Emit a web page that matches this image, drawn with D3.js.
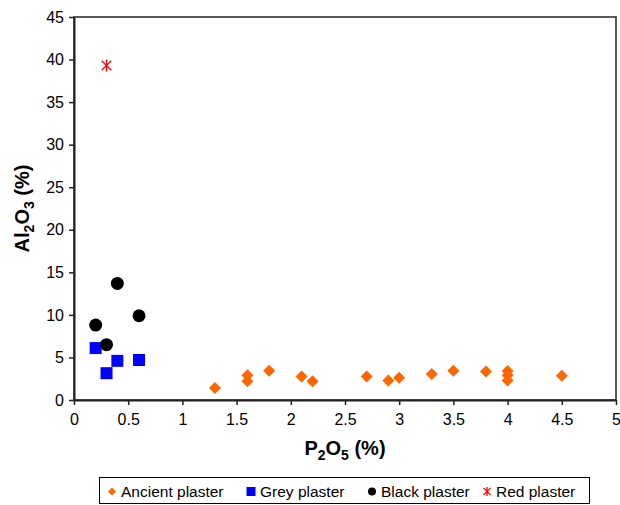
<!DOCTYPE html>
<html>
<head>
<meta charset="utf-8">
<script src="https://cdn.jsdelivr.net/npm/d3@7"></script>
<style>
  body { margin: 0; background: #fff; }
  svg text { font-family: "Liberation Sans", Arial, sans-serif; }
</style>
</head>
<body>
<svg id="chart" width="620" height="505"></svg>
<script>
// data
var ancientP = [1.3, 1.6, 1.6, 1.8, 2.1, 2.2, 2.7, 2.9, 3.0, 3.3, 3.5, 3.8, 4.0, 4.0, 4.0, 4.5];
var ancientAl = [1.4, 2.9, 2.2, 3.45, 2.75, 2.2, 2.75, 2.3, 2.6, 3.05, 3.45, 3.35, 3.4, 2.9, 2.3, 2.85];
var greyP = [0.2, 0.3, 0.4, 0.6];
var greyAl = [6.1, 3.15, 4.6, 4.7];
var blackP = [0.2, 0.3, 0.4, 0.6];
var blackAl = [8.8, 6.5, 13.7, 9.9];
var redP = [0.3];
var redAl = [39.3];
var xTicks = [0, 0.5, 1, 1.5, 2, 2.5, 3, 3.5, 4, 4.5, 5];
var yTicks = [0, 5, 10, 15, 20, 25, 30, 35, 40, 45];
var legendLabels = ["Ancient plaster", "Grey plaster", "Black plaster", "Red plaster"];

var plot = {left: 74, right: 616, top: 17, bottom: 400};
var svg = d3.select("#chart");

var x = d3.scaleLinear().domain([0, 5]).range([plot.left, plot.right]);
var y = d3.scaleLinear().domain([0, 45]).range([plot.bottom, plot.top]);

// frame
svg.append("rect")
    .attr("x", plot.left).attr("y", plot.top)
    .attr("width", plot.right - plot.left).attr("height", plot.bottom - plot.top)
    .attr("fill", "none").attr("stroke", "#333").attr("stroke-width", 1.6);

var xAxis = svg.append("g")
    .attr("transform", "translate(0," + plot.bottom + ")")
    .call(d3.axisBottom(x).tickValues(xTicks).tickSize(5).tickSizeOuter(0).tickFormat(d3.format("")));
var yAxis = svg.append("g")
    .attr("transform", "translate(" + plot.left + ",0)")
    .call(d3.axisLeft(y).tickValues(yTicks).tickSize(5).tickSizeOuter(0));

[xAxis, yAxis].forEach(function (a) {
    a.select(".domain").attr("stroke", "#222").attr("stroke-width", 2);
    a.selectAll(".tick line").attr("stroke", "#222").attr("stroke-width", 1.5);
    a.selectAll(".tick text")
        .attr("fill", "#000")
        .style("font-size", "16px")
        .style("font-family", "'Liberation Sans', Arial, sans-serif");
});
xAxis.selectAll(".tick text").attr("dy", "1.05em");
yAxis.selectAll(".tick text").attr("x", -10);

// axis titles
var xt = svg.append("text")
    .attr("x", x(2.5)).attr("y", 455)
    .attr("text-anchor", "middle")
    .style("font-size", "20px").style("font-weight", "bold");
xt.append("tspan").text("P");
xt.append("tspan").text("2").attr("dy", 5).style("font-size", "14px");
xt.append("tspan").text("O").attr("dy", -5);
xt.append("tspan").text("5").attr("dy", 5).style("font-size", "14px");
xt.append("tspan").text(" (%)").attr("dy", -5);

var yt = svg.append("text")
    .attr("transform", "translate(29," + ((plot.top + plot.bottom) / 2) + ") rotate(-90)")
    .attr("text-anchor", "middle")
    .style("font-size", "20px").style("font-weight", "bold");
yt.append("tspan").text("Al");
yt.append("tspan").text("2").attr("dy", 5).style("font-size", "14px");
yt.append("tspan").text("O").attr("dy", -5);
yt.append("tspan").text("3").attr("dy", 5).style("font-size", "14px");
yt.append("tspan").text(" (%)").attr("dy", -5);

// markers
function diamond(g, s) {
    return g.append("path").attr("d", "M0," + -s + "L" + s + ",0L0," + s + "L" + -s + ",0Z").attr("fill", "#ff6600");
}
function square(g, s) {
    return g.append("rect").attr("x", -s).attr("y", -s).attr("width", 2 * s).attr("height", 2 * s).attr("fill", "#0000ff");
}
function circle(g, s) {
    return g.append("circle").attr("r", s).attr("fill", "#000");
}
function star(g, s) {
    var d = s * 0.8;
    return g.append("path")
        .attr("d", "M" + -d + "," + -d + "L" + d + "," + d + "M" + -d + "," + d + "L" + d + "," + -d + "M0," + -s + "L0," + s)
        .attr("stroke", "#ff0000").attr("stroke-width", 1.3).attr("fill", "none");
}

function drawSeries(xs, ys, fn, size) {
    xs.forEach(function (v, i) {
        var g = svg.append("g").attr("transform", "translate(" + x(v) + "," + y(ys[i]) + ")");
        fn(g, size);
    });
}
drawSeries(ancientP, ancientAl, diamond, 6);
drawSeries(greyP, greyAl, square, 6);
drawSeries(blackP, blackAl, circle, 6.5);
drawSeries(redP, redAl, star, 6);

// legend
svg.append("rect")
    .attr("x", 99.5).attr("y", 477.5).attr("width", 490).attr("height", 26)
    .attr("fill", "none").attr("stroke", "#000").attr("stroke-width", 1);
var legendMarkX = [112, 251, 372, 487];
var legendFns = [diamond, square, circle, star];
var legendSizes = [4, 4.5, 4, 4.5];
legendLabels.forEach(function (lab, i) {
    var g = svg.append("g").attr("transform", "translate(" + legendMarkX[i] + ",491.5)");
    legendFns[i](g, legendSizes[i]);
    svg.append("text")
        .attr("x", legendMarkX[i] + 9).attr("y", 497)
        .style("font-size", "15.5px")
        .text(lab);
});
</script>
</body>
</html>
